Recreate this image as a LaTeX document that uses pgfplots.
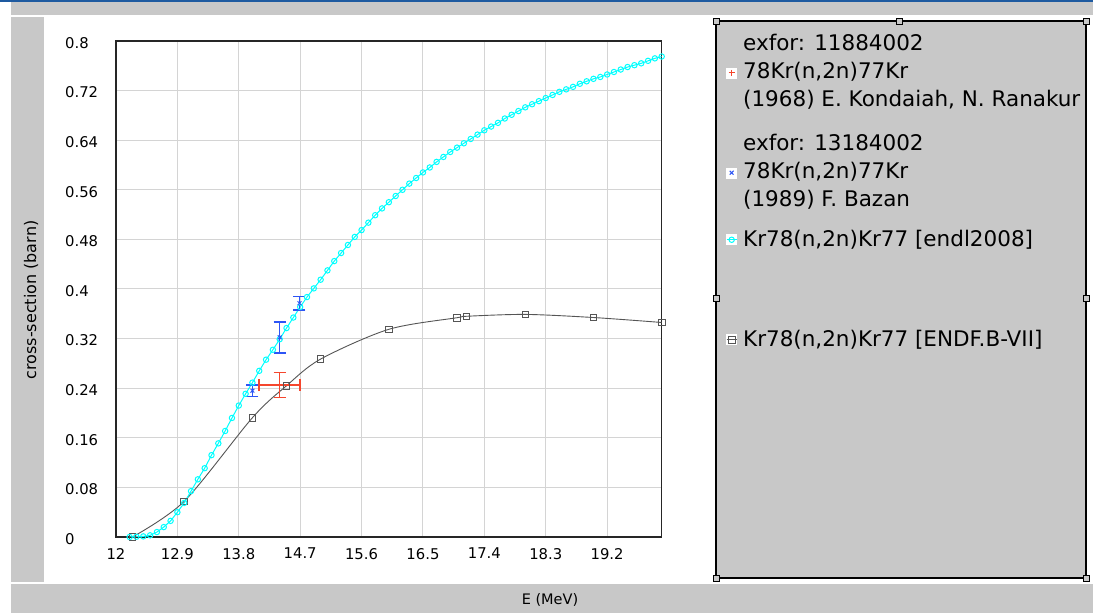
\documentclass[border=0pt]{standalone}
\usepackage{fontspec}
\setmainfont{DejaVu Sans}
\usepackage{pgfplots}
\pgfplotsset{compat=1.18}

\definecolor{panelgray}{RGB}{200,200,200}
\definecolor{topblue}{RGB}{30,90,160}
\definecolor{gridgray}{RGB}{212,212,212}
\definecolor{endlcyan}{RGB}{0,255,255}
\definecolor{endfgray}{RGB}{85,85,85}
\definecolor{kondred}{RGB}{245,70,45}
\definecolor{bazanblue}{RGB}{45,85,245}

% ENDF/B-VII evaluation
\pgfplotstableread{
E     xs
12.24 0.0
13.0  0.0576
14.0  0.1924
14.5  0.244
15.0  0.287
16.0  0.335
17.0  0.3537
17.14 0.356
18.0  0.359
19.0  0.354
20.0  0.346
}\endfdata

% endl2008 evaluation
\pgfplotstableread{
E    xs
12.2 0.0
12.3 0.0004
12.4 0.001
12.5 0.0027
12.6 0.008
12.7 0.016
12.8 0.026
12.9 0.040
13.0 0.055
13.1 0.074
13.2 0.093
13.3 0.111
13.4 0.132
13.5 0.151
13.6 0.171
13.7 0.192
13.8 0.212
13.9 0.231
14.0 0.249
14.1 0.268
14.2 0.286
14.3 0.302
14.4 0.319
14.5 0.337
14.6 0.354
14.7 0.371
14.8 0.387
14.9 0.401
15.0 0.415
15.1 0.430
15.2 0.445
15.3 0.458
15.4 0.471
15.5 0.484
15.6 0.495
15.7 0.507
15.8 0.519
15.9 0.530
16.0 0.540
16.1 0.550
16.2 0.560
16.3 0.570
16.4 0.579
16.5 0.588
16.6 0.596
16.7 0.605
16.8 0.613
16.9 0.621
17.0 0.628
17.1 0.635
17.2 0.642
17.3 0.649
17.4 0.656
17.5 0.662
17.6 0.668
17.7 0.675
17.8 0.681
17.9 0.687
18.0 0.693
18.1 0.698
18.2 0.703
18.3 0.708
18.4 0.713
18.5 0.718
18.6 0.722
18.7 0.726
18.8 0.731
18.9 0.735
19.0 0.739
19.1 0.742
19.2 0.746
19.3 0.750
19.4 0.754
19.5 0.758
19.6 0.761
19.7 0.764
19.8 0.768
19.9 0.772
20.0 0.775
}\endldata

\begin{document}
\begin{tikzpicture}
\begin{scope}[x=1pt,y=1pt]
  \path[use as bounding box] (0,0) rectangle (1093,613);
  \fill[white] (0,0) rectangle (1093,613);
  \fill[topblue] (0,611) rectangle (1093,613);
  \fill[panelgray] (11,597.7) rectangle (1093,611);
  \fill[panelgray] (11,31) rectangle (43.7,596);
  \fill[panelgray] (11,0) rectangle (1093,29);
  \filldraw[fill=panelgray, draw=black, line width=2pt] (716,35) rectangle (1086,592);
  \foreach \hx/\hy in {716/592, 899/592, 1086/592, 716/315, 1086/315, 716/35, 1086/35}
    \filldraw[fill=panelgray, draw=black, line width=0.8pt] (\hx-3,\hy-3) rectangle (\hx+3,\hy+3);
\end{scope}

\begin{axis}[
  at={(116pt,76pt)}, anchor=south west,
  scale only axis, width=545.7pt, height=496pt,
  xmin=12, xmax=20, ymin=0, ymax=0.8,
  xtick={12,12.9,13.8,14.7,15.6,16.5,17.4,18.3,19.2},
  ytick={0,0.08,0.16,0.24,0.32,0.4,0.48,0.56,0.64,0.72,0.8},
  grid=major, major grid style={gridgray, line width=1pt},
  major tick length=0pt,
  axis line style={black!85, line width=1.3pt},
  /pgf/number format/fixed,
  /pgf/number format/precision=2,
  /pgf/number format/assume math mode=true,
  tick label style={font=\fontsize{14.8}{17}\selectfont, inner sep=0pt},
  yticklabel style={anchor=west, xshift=-51pt, yshift=-2pt},
  xticklabel style={anchor=north, yshift=-11pt},
  xlabel={E (MeV)},
  ylabel={cross-section (barn)},
  xlabel style={at={(axis description cs:0.7953,-0.127)}, anchor=center, font=\fontsize{14.5}{17}\selectfont},
  ylabel style={at={(axis description cs:-0.1558,0.4778)}, anchor=center, font=\fontsize{16}{19}\selectfont},
  reverse legend,
  legend cell align=left,
  legend style={at={(1.1178,1.0218)}, anchor=north west, draw=none, fill=none,
    inner xsep=0pt, inner ysep=0pt, row sep=15pt, column sep=6pt,
    nodes={inner sep=0pt, text depth=},
    font=\fontsize{21.5}{28.3}\selectfont},
  legend image code/.code={
    \fill[white] (-5pt,-5pt) rectangle (5pt,5pt);
    \draw[mark repeat=2,mark phase=2,#1] plot coordinates {(-5pt,0pt) (0pt,0pt) (5pt,0pt)};
  },
]

\addplot[endfgray, line width=0.9pt, smooth, mark=square, mark size=3.3pt,
  mark options={line width=0.9pt, solid}] table[x=E, y=xs] {\endfdata};
\addlegendentry{\raisebox{0pt}[\dimexpr\height+66pt][\dimexpr\depth+66pt]{Kr78(n,2n)Kr77 [ENDF.B-VII]}}

\addplot[endlcyan, line width=1pt, mark=o, mark size=2.7pt,
  mark options={line width=1pt}] table[x=E, y=xs] {\endldata};
\addlegendentry{Kr78(n,2n)Kr77 [endl2008]}

\addplot[color=bazanblue, only marks, mark=x, mark size=2.7pt,
  mark options={bazanblue, line width=1pt},
  error bars/y dir=both, error bars/y explicit,
  error bars/error bar style={color=bazanblue, line width=1.5pt},
  error bars/error mark options={rotate=90, color=bazanblue, mark size=6pt, line width=1.5pt}]
  coordinates {
    (14.0,0.236)  +- (0,0.009)
    (14.4,0.322)  +- (0,0.025)
    (14.69,0.377) +- (0,0.011)
  };
\addlegendentry{\begin{tabular}[c]{@{}l@{}}exfor: 13184002\\78Kr(n,2n)77Kr\\(1989) F. Bazan\end{tabular}}

\addplot[color=kondred, only marks, mark=+, mark size=3pt,
  mark options={kondred, line width=1pt},
  error bars/x dir=both, error bars/x explicit,
  error bars/y dir=both, error bars/y explicit,
  error bars/error bar style={color=kondred, line width=1.5pt},
  error bars/error mark options={rotate=90, color=kondred, mark size=6pt, line width=1.5pt}]
  coordinates {
    (14.4,0.245) +- (0.3,0.02)
  };
\addlegendentry{\begin{tabular}[c]{@{}l@{}}exfor: 11884002\\78Kr(n,2n)77Kr\\(1968) E. Kondaiah, N. Ranakur\end{tabular}}

\end{axis}
\end{tikzpicture}
\end{document}
